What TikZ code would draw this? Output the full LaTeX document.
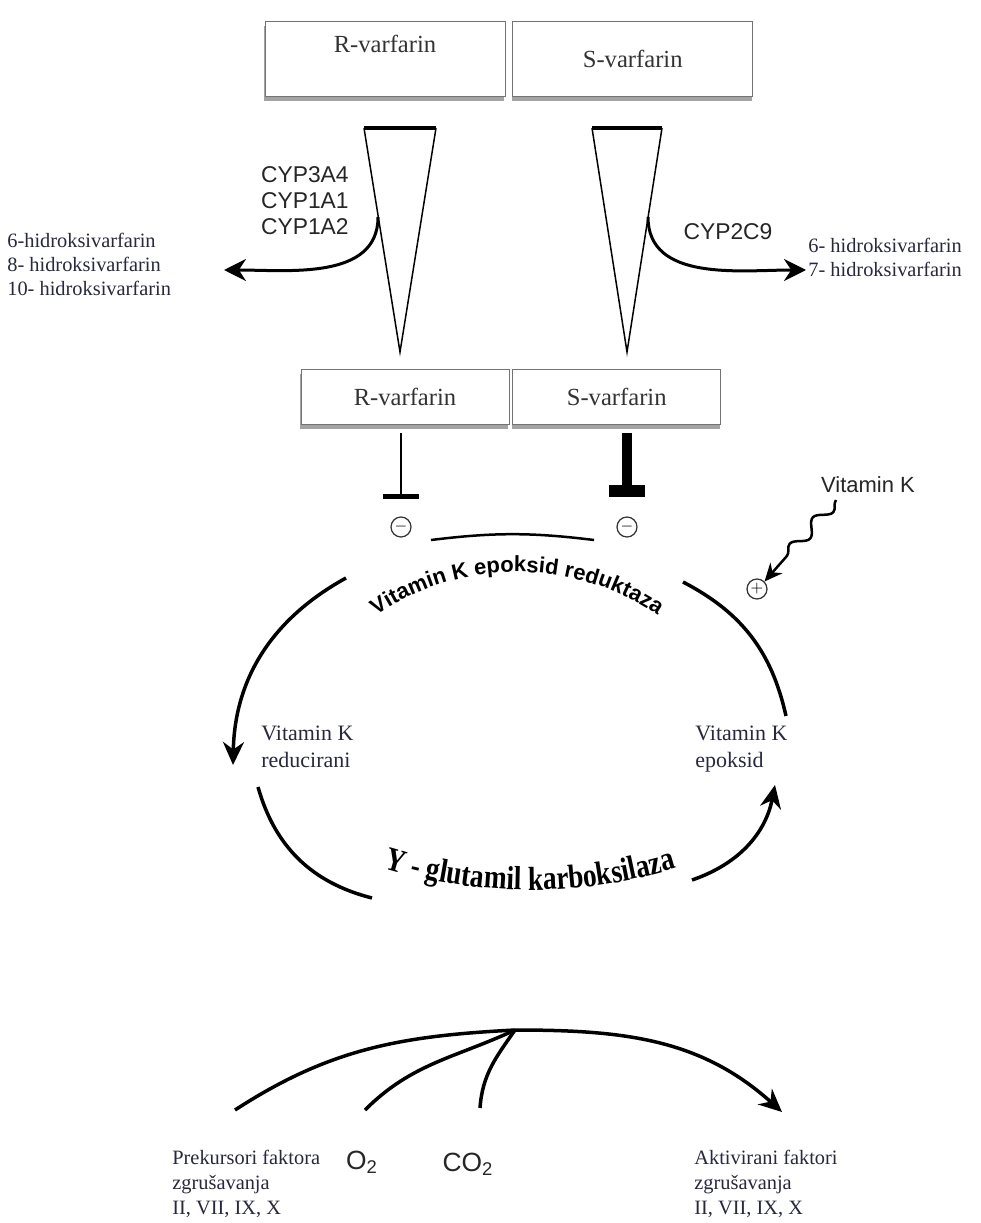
\documentclass[tikz,border=0pt]{standalone}
\usepackage{fontspec}
\setmainfont{Liberation Serif}
\setsansfont{Liberation Sans}
\newfontfamily\gammafamily[FakeStretch=0.82]{Liberation Serif}
\usetikzlibrary{positioning,arrows.meta,decorations.text,decorations.pathmorphing,shadows}

\definecolor{labcol}{RGB}{40,40,62}
\newcommand{\reduktazafont}{\sffamily\bfseries\fontsize{12.5}{15}\selectfont}
\newcommand{\karbfont}{\gammafamily\bfseries\fontsize{19}{22}\selectfont}

\tikzset{
  varbox/.style={draw=black!55, fill=white, minimum width=48mm, minimum height=15mm,
    font=\fontsize{14}{16}\selectfont, text=black!80,
    drop shadow={shadow xshift=-0.2mm, shadow yshift=-0.9mm, fill=black!60, opacity=0.6}},
  lowbox/.style={varbox, minimum width=41.6mm, minimum height=11mm},
  lbl/.style={font=\fontsize{11.5}{13.7}\selectfont, text=labcol, align=left, inner sep=0pt},
  biglbl/.style={font=\fontsize{12.5}{15.4}\selectfont, text=labcol, align=left, inner sep=0pt},
  sflbl/.style={font=\sffamily\fontsize{13}{15}\selectfont, text=black!85, inner sep=0pt},
  cone/.style={line width=0.3mm, line join=miter},
  conetop/.style={line width=0.7mm},
  metarrow/.style={line width=0.6mm, -{Stealth[length=4.4mm, width=4.4mm]}},
  cyc/.style={line width=0.7mm},
  cycarrow/.style={cyc, -{Stealth[length=4.6mm, width=4.2mm]}},
  sign/.style={circle, draw=black!80, line width=0.25mm, inner sep=0pt, minimum size=4mm,
    font=\sffamily\bfseries\small},
  inhthin/.style={line width=0.4mm, -{Bar[width=7.2mm, line width=1mm]}},
  inhthick/.style={line width=2mm, -{Bar[width=7.2mm, line width=2.4mm]}}
}

\begin{document}
\begin{tikzpicture}[x=0.2mm, y=0.2mm]
\useasboundingbox[fill=white] (0,0) rectangle (980,-1223);

% varfarin before metabolism
\node[varbox, label={[anchor=north, yshift=-1.6mm, font=\fontsize{14}{16}\selectfont, text=black!80]north:R-varfarin}] (rtop) at (385,-59) {};
\node[varbox, right=1.4mm of rtop] (stop) {S-varfarin};

% cones
\coordinate (rcone1) at (364,-128);
\coordinate (rcone2) at (436,-128);
\coordinate (rtip) at (400,-352);
\coordinate (scone1) at (592,-128);
\coordinate (scone2) at (662,-128);
\coordinate (stip) at (627,-352);
\draw[cone] (rcone1) -- (rtip) -- (rcone2);
\draw[conetop] (rcone1) -- (rcone2);
\draw[cone] (scone1) -- (stip) -- (scone2);
\draw[conetop] (scone1) -- (scone2);

% metabolites
\coordinate (rout) at (378,-217);
\coordinate (rmet) at (224,-270);
\coordinate (sout) at (648,-217);
\coordinate (smet) at (806,-270);
\draw[metarrow] (rout) to[out=-90, in=0] (rmet);
\draw[metarrow] (sout) to[out=-90, in=180] (smet);

\node[sflbl, anchor=east, align=right, font=\sffamily\fontsize{13}{14.8}\selectfont] (rcyp) at (349,-201) {CYP3A4\\CYP1A1\\CYP1A2};
\node[sflbl] (scyp) at (728,-232) {CYP2C9};
\node[lbl, anchor=west, font=\fontsize{11.6}{13.7}\selectfont] (rhyd) at (7,-264) {6-hidroksivarfarin\\8- hidroksivarfarin\\10- hidroksivarfarin};
\node[lbl, anchor=west, font=\fontsize{11.6}{13.7}\selectfont] (shyd) at (808,-257) {6- hidroksivarfarin\\7- hidroksivarfarin};

% varfarin after metabolism
\node[lowbox] (rlow) at (405,-397) {R-varfarin};
\node[lowbox, right=0.6mm of rlow] (slow) {S-varfarin};

% inhibition of the reductase
\node[sign] (rminus) at (401,-527) {$-$};
\node[sign] (sminus) at (627,-527) {$-$};
\coordinate (rinh) at (401,-433);
\coordinate (sinh) at (627,-433);
\coordinate (rbar) at (401,-499);
\coordinate (sbar) at (627,-497);
\draw[inhthin] (rinh) -- (rbar);
\draw[inhthick] (sinh) -- (sbar);
\coordinate (enz1) at (431,-540);
\coordinate (enz2) at (594,-540);
\draw[line width=0.5mm] (enz1) to[bend left=7] (enz2);

% vitamin K input
\node[sflbl, font=\sffamily\fontsize{12.5}{15}\selectfont] (vitk) at (868,-485) {Vitamin K};
\node[sign] (plus) at (757,-589) {$+$};
\coordinate (vkstart) at (836,-500);
\draw[line width=0.5mm, decorate, decoration={snake, amplitude=1.2mm, segment length=7mm, post length=4mm},
  -{Stealth[length=3.6mm, width=3.2mm]}] (vkstart) -- (plus.north east);

% reductase
\coordinate (redc) at (517,-822);
\path[decorate, decoration={text along path, text align=center,
  text={|\reduktazafont|Vitamin K epoksid reduktaza}}]
  (redc) ++(142:250) arc[start angle=142, end angle=38, radius=250];
\coordinate (tla) at (346,-578);
\coordinate (tlb) at (233,-765);
\coordinate (tra) at (683,-582);
\coordinate (trb) at (786,-716);
\draw[cycarrow] (tla) to[bend right=30] (tlb);
\draw[cyc] (tra) to[bend left=25] (trb);

\node[biglbl, anchor=north west] (vkred) at (261,-726) {Vitamin K\\reducirani};
\node[biglbl, anchor=north west] (vkep) at (695,-726) {Vitamin K\\epoksid};

% carboxylase
\coordinate (blb) at (258,-787);
\coordinate (bla) at (372,-898);
\coordinate (bra) at (692,-880);
\coordinate (brb) at (775,-785);
\draw[cyc] (blb) to[bend right=30] (bla);
\draw[cycarrow] (bra) to[bend right=30] (brb);
\coordinate (karbc) at (530,-390);
\path[decorate, decoration={text along path, text align=center,
  text={|\karbfont|Y - glutamil karboksilaza}}]
  (karbc) ++(252:500) arc[start angle=252, end angle=288, radius=500];

% clotting factors
\coordinate (peak) at (515,-1030);
\coordinate (prek) at (235,-1110);
\coordinate (otwo) at (365,-1110);
\coordinate (cotwo) at (480,-1108);
\coordinate (akt) at (782,-1112);
\draw[cycarrow] (prek) to[out=33, in=183] (peak) to[out=0, in=138] (akt);
\draw[cyc] (otwo) to[out=45, in=205] (peak);
\draw[cyc] (cotwo) to[out=86, in=235] (peak);

\node[sflbl, font=\sffamily\fontsize{15}{18}\selectfont] (o2) at (362,-1162) {O\textsubscript{2}};
\node[sflbl, font=\sffamily\fontsize{15}{18}\selectfont] (co2) at (468,-1164) {CO\textsubscript{2}};
\node[lbl, anchor=north west, font=\fontsize{11.6}{14.3}\selectfont] (prekf) at (172,-1150) {Prekursori faktora\\zgrušavanja\\II, VII, IX, X};
\node[lbl, anchor=north west, font=\fontsize{11.6}{14.3}\selectfont] (aktf) at (694,-1150) {Aktivirani faktori\\zgrušavanja\\II, VII, IX, X};
\end{tikzpicture}
\end{document}
